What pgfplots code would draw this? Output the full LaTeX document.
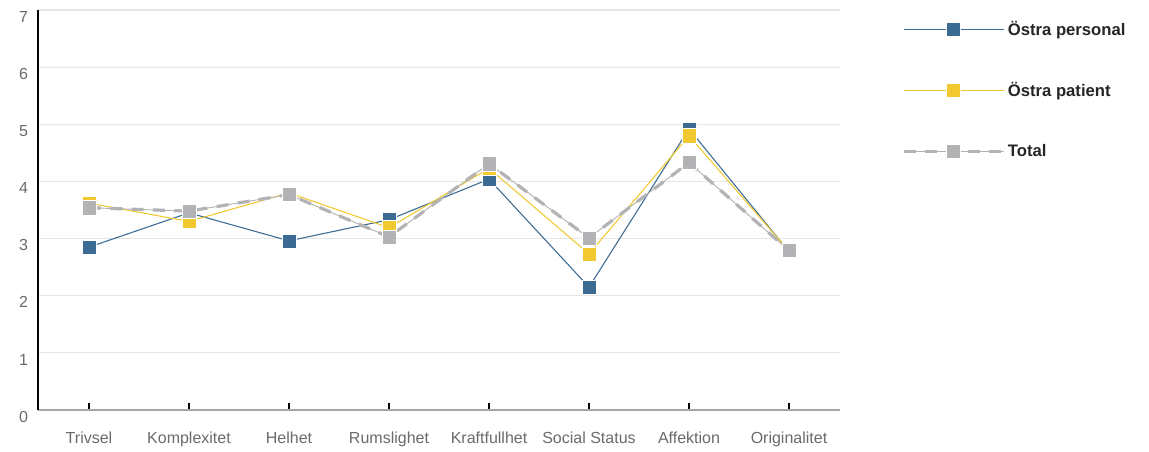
\documentclass[border=0pt]{standalone}
\usepackage{fontspec}
\setmainfont{Liberation Sans}
\usepackage{pgfplots}
\pgfplotsset{compat=1.18}
\definecolor{cblue}{HTML}{3B6A93}
\definecolor{cyellow}{HTML}{F2C830}
\definecolor{cgray}{HTML}{B3B3B6}
\definecolor{cgrid}{HTML}{E6E6E6}
\definecolor{ctext}{HTML}{6A6A6A}
\begin{document}
\begin{tikzpicture}
\useasboundingbox (-28.5pt,-31.5pt) rectangle (833.25pt,307.5pt);
\begin{axis}[
  at={(0pt,0pt)}, anchor=south west,
  scale only axis, width=601.5pt, height=300pt,
  xmin=-0.51, xmax=7.51, ymin=0, ymax=7,
  xtick={0,...,7},
  xticklabels={Trivsel,Komplexitet,Helhet,Rumslighet,Kraftfullhet,Social Status,Affektion,Originalitet},
  ytick={0,...,7},
  axis x line*=bottom, axis y line*=left,
  x axis line style={-, color=gray!70, line width=1pt},
  y axis line style={-, color=black, line width=1.6pt},
  ymajorgrids, grid style={cgrid, line width=0.8pt},
  tick align=inside,
  major tick length=5.5pt,
  xtick style={black, line width=1.3pt},
  ytick style={draw=none},
  tick label style={font=\fontsize{12}{14}\selectfont, color=ctext},
  /pgf/number format/assume math mode=true,
  yticklabel style={xshift=-4pt, yshift=-5pt},
  xticklabel style={yshift=-13pt},
  legend cell align=left,
  legend style={draw=none, at={(1.077,0.98)}, anchor=north west,
    font=\bfseries\fontsize{12.5}{14}\selectfont, text=black!85,
    row sep=30pt, inner sep=0pt},
  legend image code/.code={%
    \draw[mark repeat=2,mark phase=2,#1] plot coordinates {(0pt,0pt) (37.5pt,0pt) (75pt,0pt)};},
  mark size=5.3pt,
]
\addplot[cblue, line width=0.8pt, mark=square*, mark options={solid, fill=cblue, draw=white, line width=0.3pt}]
  coordinates {(0,2.85) (1,3.45) (2,2.96) (3,3.33) (4,4.04) (5,2.15) (6,4.92) (7,2.77)};
\addlegendentry{Östra personal}
\addplot[cyellow, line width=0.8pt, mark=square*, mark options={solid, fill=cyellow, draw=white, line width=0.3pt}]
  coordinates {(0,3.62) (1,3.30) (2,3.80) (3,3.19) (4,4.23) (5,2.73) (6,4.80) (7,2.78)};
\addlegendentry{Östra patient}
\addplot[cgray, line width=0.7pt, postaction={draw, line width=2.4pt, dash pattern=on 9pt off 7pt},
  mark=square*, mark options={solid, fill=cgray, draw=white, line width=0.3pt}]
  coordinates {(0,3.54) (1,3.48) (2,3.77) (3,3.03) (4,4.31) (5,3.01) (6,4.33) (7,2.79)};
\addlegendentry{Total}
\end{axis}
\end{tikzpicture}
\end{document}
